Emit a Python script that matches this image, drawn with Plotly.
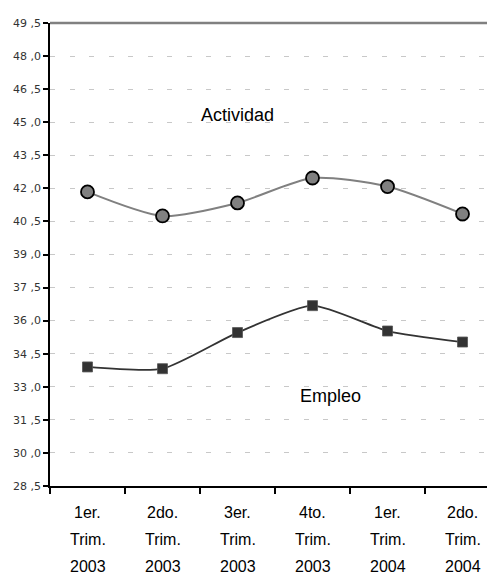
import plotly.graph_objects as go

# trimestres
quarters = ["1er.", "2do.", "3er.", "4to.", "1er.", "2do."]
row2 = ["Trim."] * 6
years = ["2003", "2003", "2003", "2003", "2004", "2004"]

actividad = [41.84, 40.75, 41.34, 42.47, 42.08, 40.84]
empleo = [33.90, 33.82, 35.46, 36.68, 35.53, 35.03]

ytick_vals = [28.5, 30.0, 31.5, 33.0, 34.5, 36.0, 37.5, 39.0, 40.5, 42.0, 43.5, 45.0, 46.5, 48.0, 49.5]
ytick_text = ["%d ,%d" % (int(v), round((v - int(v)) * 10)) for v in ytick_vals]

x = list(range(len(quarters)))

fig = go.Figure()
fig.add_trace(go.Scatter(
    x=x, y=actividad, mode="lines+markers", name="Actividad",
    line=dict(color="#808080", width=2, shape="spline", smoothing=0.7),
    marker=dict(symbol="circle", size=13, color="#808080",
                line=dict(color="black", width=1.8)),
))
fig.add_trace(go.Scatter(
    x=x, y=empleo, mode="lines+markers", name="Empleo",
    line=dict(color="#333333", width=1.8, shape="spline", smoothing=0.6),
    marker=dict(symbol="square", size=10, color="#333333",
                line=dict(color="#555555", width=0.8)),
))

# labels inside the plot
fig.add_annotation(x=2, y=45.33, text="Actividad", showarrow=False,
                   font=dict(family="Liberation Sans, Arial", size=18, color="black"))
fig.add_annotation(x=3.24, y=32.58, text="Empleo", showarrow=False,
                   font=dict(family="Liberation Sans, Arial", size=18, color="black"))

# x labels, three rows
rows = [quarters, row2, years]
row_y = [-0.058, -0.115, -0.173]
for r, ry in zip(rows, row_y):
    for i, t in enumerate(r):
        fig.add_annotation(x=i, y=ry, xref="x", yref="paper", text=t,
                           showarrow=False, yanchor="middle",
                           font=dict(family="Liberation Sans, Arial", size=16, color="black"))

# top border
fig.add_shape(type="line", xref="paper", yref="paper", x0=0, x1=1, y0=1, y1=1,
              line=dict(color="#808080", width=2.5))

fig.update_xaxes(
    range=[-0.5, 5.433], tickvals=[-0.5, 0.5, 1.5, 2.5, 3.5, 4.5],
    showticklabels=False, ticks="outside", ticklen=6, tickcolor="black", tickwidth=1.5,
    showgrid=False, zeroline=False, showline=True, linecolor="black", linewidth=1.5,
)
fig.update_yaxes(
    range=[28.5, 49.5], tickvals=ytick_vals, ticktext=ytick_text,
    ticks="outside", ticklen=5, tickcolor="black", tickwidth=1.5,
    tickfont=dict(family="DejaVu Sans", size=11, color="#333333"),
    showgrid=True, gridcolor="#c8c8c8", gridwidth=1, griddash="5px,14.5px",
    zeroline=False, showline=True, linecolor="black", linewidth=1.5,
)

# page has an 8px body margin, so size the figure to fit the window
fig.update_layout(
    width=487, height=570,
    margin=dict(l=42, r=0, t=15, b=92),
    plot_bgcolor="white", paper_bgcolor="white",
    showlegend=False,
)

fig.write_html("out.html")
